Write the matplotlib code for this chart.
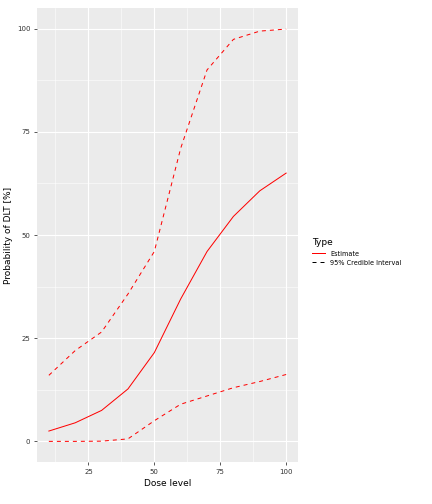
import matplotlib
matplotlib.use("Agg")
import matplotlib.pyplot as plt
from matplotlib.lines import Line2D

dose = [10, 20, 30, 40, 50, 60, 70, 80, 90, 100]
estimate = [2.5, 4.5, 7.5, 12.7, 21.5, 34.5, 46, 54.5, 60.7, 65]
upper = [16, 22, 26.5, 35.7, 46, 71, 90, 97.4, 99.4, 99.9]
lower = [0, 0, 0.05, 0.6, 5, 9, 11, 13, 14.5, 16.2]
xticks = [25, 50, 75, 100]
yticks = [0, 25, 50, 75, 100]

fig = plt.figure(figsize=(6, 7), dpi=72)
ax = fig.add_axes([37/432, 42/504, 261/432, 454/504])
ax.set_facecolor("#EBEBEB")
ax.set_xlim(5.5, 104.5)
ax.set_ylim(-5, 105)
for v in xticks:
    ax.axvline(v, color="white", lw=1.1, zorder=0)
for v in [12.5, 37.5, 62.5, 87.5]:
    ax.axvline(v, color="white", lw=0.5, zorder=0)
for v in yticks:
    ax.axhline(v, color="white", lw=1.1, zorder=0)
for v in [12.5, 37.5, 62.5, 87.5]:
    ax.axhline(v, color="white", lw=0.5, zorder=0)
ax.plot(dose, estimate, color="red", lw=1)
ax.plot(dose, upper, color="red", lw=1, ls=(0, (4, 4)))
ax.plot(dose, lower, color="red", lw=1, ls=(0, (4, 4)))
ax.set_xticks(xticks)
ax.set_yticks(yticks)
ax.tick_params(colors="#333333", labelsize=7, length=3, color="#333333")
for s in ax.spines.values():
    s.set_visible(False)
ax.set_xlabel("Dose level", fontsize=9)
ax.set_ylabel("Probability of DLT [%]", fontsize=9)

handles = [Line2D([], [], color="red", lw=1),
           Line2D([], [], color="black", lw=1, ls=(0, (4, 4)))]
leg = fig.legend(handles, ["Estimate", "95% Credible Interval"], title="Type",
                 loc="center left", bbox_to_anchor=(306/432, 0.5), frameon=False,
                 fontsize=6.5, title_fontsize=9, handlelength=2)
leg._legend_box.align = "left"
fig.savefig("out.png", dpi=72)
